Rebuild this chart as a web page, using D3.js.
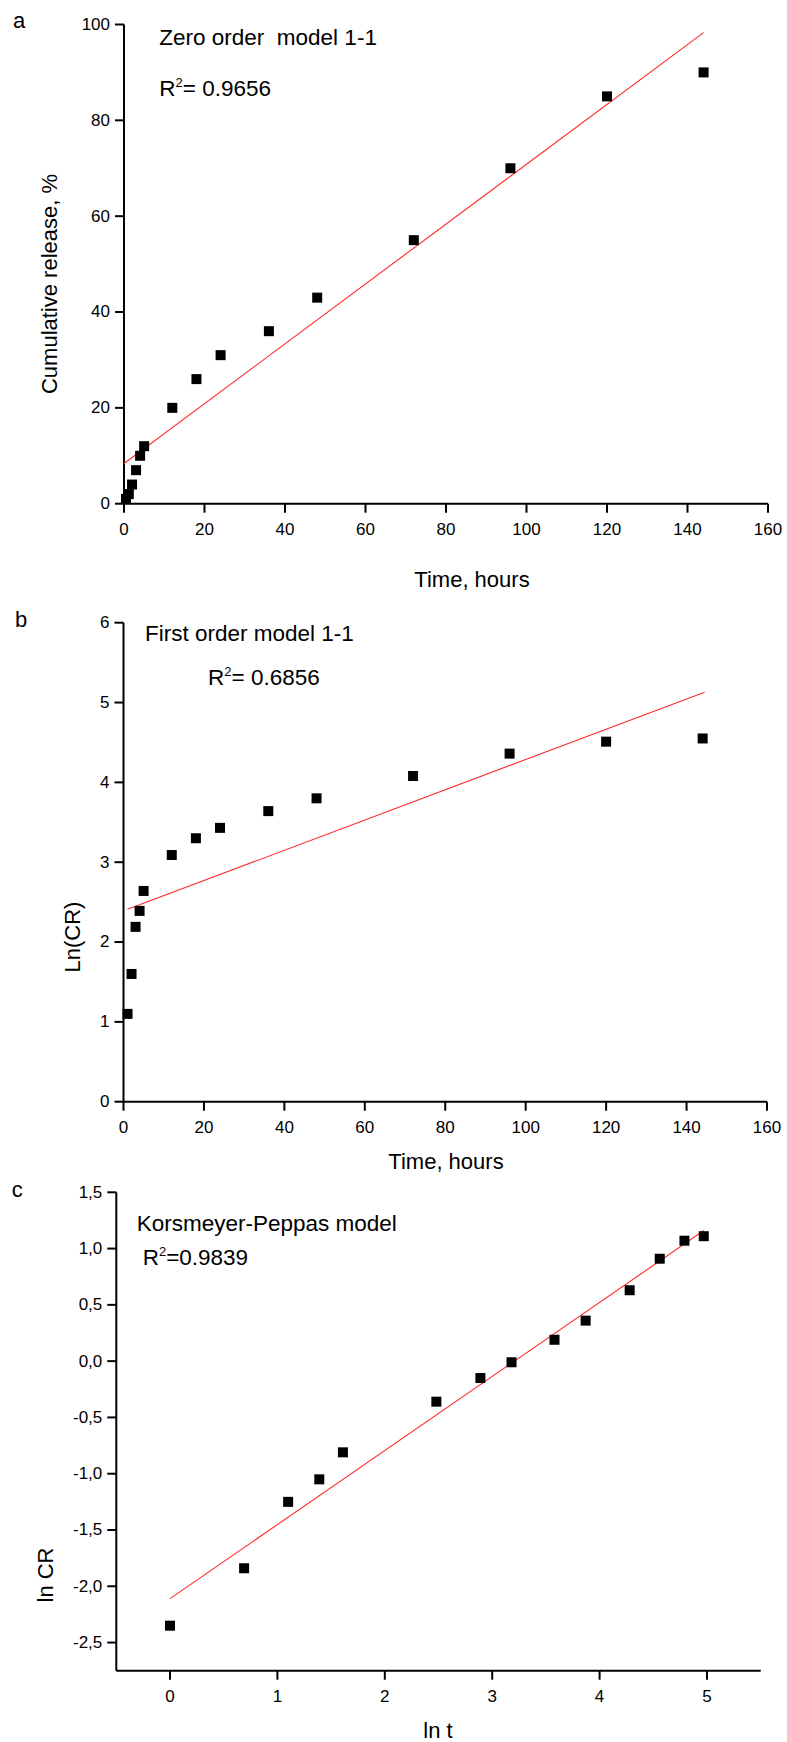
<!DOCTYPE html>
<html>
<head>
<meta charset="utf-8">
<script src="https://cdn.jsdelivr.net/npm/d3@7"></script>
<style>
  body { margin: 0; background: #fff; }
  text { font-family: "Liberation Sans", Arial, sans-serif; fill: #000; }
</style>
</head>
<body>
<div id="chart"></div>
<script>
/* Panel a: zero order model */
var timeA = [0.5, 1.2, 2, 3, 4, 5, 12, 18, 24, 36, 48, 72, 96, 120, 144];
var releaseA = [1, 2, 4, 7, 10, 12, 20, 26, 31, 36, 43, 55, 70, 85, 90];
var fitXA = [0, 144];
var fitYA = [8.4, 98.3];
var ticksXA = [0, 20, 40, 60, 80, 100, 120, 140, 160];
var ticksYA = [0, 20, 40, 60, 80, 100];

/* Panel b: first order model */
var timeB = [1, 2, 3, 4, 5, 12, 18, 24, 36, 48, 72, 96, 120, 144];
var lnCRB = [1.10, 1.60, 2.19, 2.39, 2.64, 3.09, 3.30, 3.43, 3.64, 3.80, 4.08, 4.36, 4.51, 4.55];
var fitXB = [1, 144.5];
var fitYB = [2.41, 5.13];
var ticksXB = [0, 20, 40, 60, 80, 100, 120, 140, 160];
var ticksYB = [0, 1, 2, 3, 4, 5, 6];

/* Panel c: Korsmeyer-Peppas model */
var lnTC = [0, 0.69, 1.10, 1.39, 1.61, 2.48, 2.89, 3.18, 3.58, 3.87, 4.28, 4.56, 4.79, 4.97];
var lnCRC = [-2.35, -1.84, -1.25, -1.05, -0.81, -0.36, -0.15, -0.01, 0.19, 0.36, 0.63, 0.91, 1.07, 1.11];
var fitXC = [0, 4.97];
var fitYC = [-2.11, 1.16];
var ticksXC = [0, 1, 2, 3, 4, 5];
var ticksYC = [-2.5, -2.0, -1.5, -1.0, -0.5, 0.0, 0.5, 1.0, 1.5];

var width = 787;
var height = 1742;

var svg = d3.select("#chart").append("svg")
  .attr("width", width)
  .attr("height", height);

/* Draws one panel: axes, squares, red fit line and the texts */
function drawPanel(p) {
  var xScale = d3.scaleLinear().domain(p.xDomain).range(p.xRange);
  var yScale = d3.scaleLinear().domain(p.yDomain).range(p.yRange);
  var g = svg.append("g");

  var xAxis = d3.axisBottom(xScale)
    .tickValues(p.xTicks)
    .tickFormat(p.fmtX)
    .tickSize(9)
    .tickSizeOuter(0)
    .tickPadding(10)
    .offset(0);
  var yAxis = d3.axisLeft(yScale)
    .tickValues(p.yTicks)
    .tickFormat(p.fmtY)
    .tickSize(9)
    .tickSizeOuter(0)
    .tickPadding(5)
    .offset(0);

  var gx = g.append("g")
    .attr("transform", "translate(0," + p.yRange[0] + ")")
    .call(xAxis);
  var gy = g.append("g")
    .attr("transform", "translate(" + p.xRange[0] + ",0)")
    .call(yAxis);
  [gx, gy].forEach(function (a) {
    a.selectAll("path, line").attr("stroke", "#000").attr("stroke-width", 2);
    a.selectAll("text")
      .style("font-family", "Liberation Sans, Arial, sans-serif")
      .style("font-size", "17px")
      .attr("fill", "#000");
  });

  var line = d3.line()
    .x(function (d) { return xScale(d[0]); })
    .y(function (d) { return yScale(d[1]); });
  g.append("path")
    .datum(d3.zip(p.fitX, p.fitY))
    .attr("d", line)
    .attr("fill", "none")
    .attr("stroke", "#ff2a2a")
    .attr("stroke-width", 1.1);

  g.selectAll("rect.point")
    .data(d3.zip(p.xs, p.ys))
    .enter()
    .append("rect")
      .attr("class", "point")
      .attr("x", function (d) { return xScale(d[0]) - 5; })
      .attr("y", function (d) { return yScale(d[1]) - 5; })
      .attr("width", 10)
      .attr("height", 10)
      .attr("fill", "#000");

  g.append("text")
    .attr("x", p.letter[1])
    .attr("y", p.letter[2])
    .style("font-size", "22px")
    .text(p.letter[0]);

  g.append("text")
    .attr("x", p.title[1])
    .attr("y", p.title[2])
    .style("font-size", "22.5px")
    .style("white-space", "pre")
    .text(p.title[0]);

  var r2 = g.append("text")
    .attr("x", p.r2[1])
    .attr("y", p.r2[2])
    .style("font-size", "22.5px")
    .style("white-space", "pre");
  r2.append("tspan").text("R");
  r2.append("tspan").attr("dy", -9).style("font-size", "13px").text("2");
  r2.append("tspan").attr("dy", 9).text(p.r2[0]);

  g.append("text")
    .attr("x", p.xLabel[1])
    .attr("y", p.xLabel[2])
    .attr("text-anchor", "middle")
    .style("font-size", "22px")
    .text(p.xLabel[0]);

  g.append("text")
    .attr("transform", "translate(" + p.yLabel[1] + "," + p.yLabel[2] + ") rotate(-90)")
    .attr("text-anchor", "middle")
    .style("font-size", "22px")
    .text(p.yLabel[0]);
}

var plain = function (d) { return String(d); };
var comma = function (d) { return d.toFixed(1).replace(".", ","); };

drawPanel({
  xs: timeA, ys: releaseA, fitX: fitXA, fitY: fitYA,
  xDomain: [0, 160], xRange: [124, 768],
  yDomain: [0, 100], yRange: [503.7, 24.5],
  xTicks: ticksXA, yTicks: ticksYA, fmtX: plain, fmtY: plain,
  letter: ["a", 13, 28.3],
  title: ["Zero order  model 1-1", 159.3, 44.6],
  r2: ["= 0.9656", 159.3, 96.2],
  xLabel: ["Time, hours", 472, 586.5],
  yLabel: ["Cumulative release, %", 57, 284]
});

drawPanel({
  xs: timeB, ys: lnCRB, fitX: fitXB, fitY: fitYB,
  xDomain: [0, 160], xRange: [123.5, 767],
  yDomain: [0, 6], yRange: [1101.7, 622.7],
  xTicks: ticksXB, yTicks: ticksYB, fmtX: plain, fmtY: plain,
  letter: ["b", 15, 626.7],
  title: ["First order model 1-1", 145, 641.2],
  r2: ["= 0.6856", 208, 684.6],
  xLabel: ["Time, hours", 446, 1168.5],
  yLabel: ["Ln(CR)", 80, 937]
});

drawPanel({
  xs: lnTC, ys: lnCRC, fitX: fitXC, fitY: fitYC,
  xDomain: [-0.5, 5.5], xRange: [116.3, 760.7],
  yDomain: [-2.75, 1.5], yRange: [1670.7, 1192.3],
  xTicks: ticksXC, yTicks: ticksYC, fmtX: plain, fmtY: comma,
  letter: ["c", 11.7, 1196.7],
  title: ["Korsmeyer-Peppas model", 136.7, 1231.2],
  r2: ["=0.9839", 142.7, 1264.6],
  xLabel: ["ln t", 438, 1738],
  yLabel: ["ln CR", 53, 1575]
});
</script>
</body>
</html>
